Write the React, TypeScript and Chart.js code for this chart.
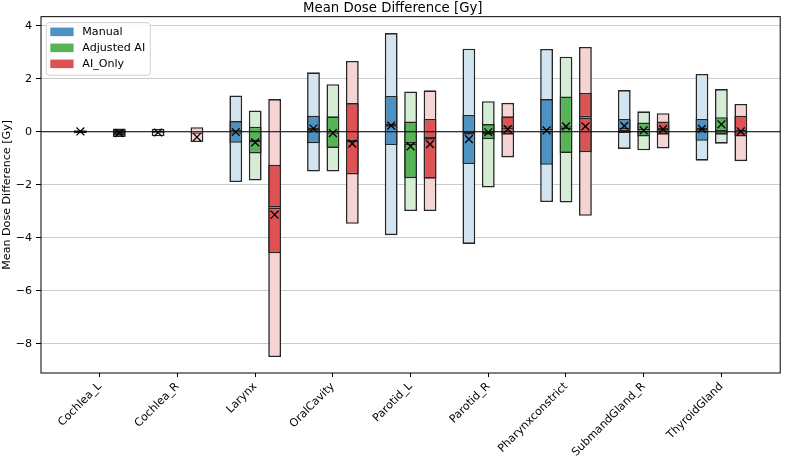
import React, { useEffect, useRef } from 'react';
import { Chart, registerables } from 'chart.js';

Chart.register(...registerables);

// ---------------- data ----------------
const categories = [
  'Cochlea_L', 'Cochlea_R', 'Larynx', 'OralCavity', 'Parotid_L',
  'Parotid_R', 'Pharynxconstrict', 'SubmandGland_R', 'ThyroidGland',
];
const seriesNames = ['Manual', 'Adjusted AI', 'AI_Only'];
const yTickValues = [-8, -6, -4, -2, 0, 2, 4];

// Manual
const manualMin = [-0.06, -0.17, -1.90, -1.50, -3.90, -4.23, -2.65, -0.65, -1.09];
const manualQ1 = [-0.02, -0.05, -0.42, -0.43, -0.50, -1.22, -1.25, -0.05, -0.34];
const manualMedian = [0.0, -0.02, 0.0, 0.10, 0.25, -0.05, 0.05, 0.08, 0.10];
const manualQ3 = [0.02, 0.03, 0.40, 0.60, 1.35, 0.63, 1.23, 0.48, 0.48];
const manualMax = [0.06, 0.11, 1.37, 2.24, 3.72, 3.13, 3.12, 1.57, 2.18];
const manualMean = [0.01, -0.03, -0.01, 0.12, 0.23, -0.28, 0.05, 0.22, 0.11];

// Adjusted AI
const adjustedMin = [null, null, -1.84, -1.50, -2.99, -2.10, -2.67, -0.70, -0.45];
const adjustedQ1 = [null, null, -0.82, -0.61, -1.75, -0.28, -0.80, -0.18, -0.11];
const adjustedMedian = [null, null, -0.35, -0.02, -0.45, -0.05, 0.15, 0.05, 0.0];
const adjustedQ3 = [null, null, 0.19, 0.58, 0.39, 0.29, 1.33, 0.35, 0.55];
const adjustedMax = [null, null, 0.80, 1.79, 1.52, 1.15, 2.83, 0.77, 1.61];
const adjustedMean = [null, null, -0.40, -0.05, -0.55, -0.02, 0.20, 0.05, 0.28];

// AI_Only
const aiOnlyMin = [-0.20, -0.39, -8.50, -3.47, -2.99, -0.97, -3.17, -0.63, -1.11];
const aiOnlyQ1 = [-0.15, -0.08, -4.58, -1.61, -1.77, -0.11, -0.77, -0.11, -0.18];
const aiOnlyMedian = [-0.05, -0.04, -2.86, -0.35, -0.24, 0.15, 0.54, 0.10, 0.0];
const aiOnlyQ3 = [0.08, 0.0, -1.25, 1.08, 0.48, 0.58, 1.46, 0.39, 0.60];
const aiOnlyMax = [0.12, 0.17, 1.23, 2.67, 1.56, 1.09, 3.20, 0.70, 1.05];
const aiOnlyMean = [-0.05, -0.20, -3.13, -0.45, -0.47, 0.10, 0.20, 0.10, 0.01];

const seriesMin = [manualMin, adjustedMin, aiOnlyMin];
const seriesQ1 = [manualQ1, adjustedQ1, aiOnlyQ1];
const seriesMedian = [manualMedian, adjustedMedian, aiOnlyMedian];
const seriesQ3 = [manualQ3, adjustedQ3, aiOnlyQ3];
const seriesMax = [manualMax, adjustedMax, aiOnlyMax];
const seriesMean = [manualMean, adjustedMean, aiOnlyMean];

// ---------------- styles ----------------
const darkColors = ['#4c92c3', '#56b356', '#de5253'];
const lightColors = ['#d2e4f0', '#d5ecd5', '#f7d4d4'];
const edgeColor = '#262626';
const FONT = "'DejaVu Sans', sans-serif";
const TICK_SIZE = 11.1;
const groupOffsets = [-0.25, 0, 0.25];

function floatData(lo: (number | null)[], hi: (number | null)[]) {
  const out: { x: number; y: [number, number] }[] = [];
  categories.forEach((_, i) => {
    const a = lo[i];
    const b = hi[i];
    if (a !== null && b !== null) out.push({ x: i, y: [a, b] });
  });
  return out;
}

const framePlugin = {
  id: 'frameAndZero',
  afterDatasetsDraw(chart: any) {
    const { ctx, chartArea: a, scales } = chart;
    const y0 = scales.y.getPixelForValue(0);
    ctx.save();
    ctx.strokeStyle = '#000';
    ctx.lineWidth = 1.2;
    ctx.beginPath();
    ctx.moveTo(a.left, y0);
    ctx.lineTo(a.right, y0);
    ctx.stroke();
    ctx.restore();
  },
  afterDraw(chart: any) {
    const { ctx, chartArea: a } = chart;
    ctx.save();
    ctx.strokeStyle = '#000';
    ctx.lineWidth = 1;
    ctx.strokeRect(a.left, a.top, a.right - a.left, a.bottom - a.top);

    // legend (upper left, inside axes)
    const lx = a.left + 5.3;
    const ly = a.top + 6;
    const lw = 104;
    const lh = 52.6;
    ctx.beginPath();
    ctx.roundRect(lx, ly, lw, lh, 3);
    ctx.fillStyle = 'rgba(255,255,255,0.85)';
    ctx.fill();
    ctx.strokeStyle = '#d0d0d0';
    ctx.lineWidth = 1;
    ctx.stroke();
    ctx.font = `${TICK_SIZE}px ${FONT}`;
    ctx.textBaseline = 'middle';
    ctx.textAlign = 'left';
    seriesNames.forEach((name, s) => {
      const cy = a.top + 15.2 + s * 16;
      ctx.fillStyle = darkColors[s];
      ctx.fillRect(a.left + 9.3, cy - 4.3, 23.3, 8.6);
      ctx.fillStyle = '#000';
      ctx.fillText(name, a.left + 41.3, cy);
    });
    ctx.restore();
  },
};

export default function App() {
  const canvasRef = useRef<HTMLCanvasElement | null>(null);

  useEffect(() => {
    document.body.style.margin = '0';
    const canvas = canvasRef.current;
    if (!canvas) return;

    const datasets: any[] = [];
    seriesNames.forEach((name, s) => {
      const common = {
        type: 'bar',
        borderColor: edgeColor,
        borderWidth: 1.6,
        borderSkipped: false,
        stack: name,
      };
      datasets.push({
        ...common,
        label: name + ' IQR upper',
        data: floatData(seriesMedian[s], seriesQ3[s]),
        backgroundColor: darkColors[s],
        order: 1,
      });
      datasets.push({
        ...common,
        label: name + ' IQR lower',
        data: floatData(seriesQ1[s], seriesMedian[s]),
        backgroundColor: darkColors[s],
        order: 1,
      });
      datasets.push({
        ...common,
        label: name + ' range',
        data: floatData(seriesMin[s], seriesMax[s]),
        backgroundColor: lightColors[s],
        order: 2,
      });
    });
    seriesNames.forEach((name, s) => {
      const pts: { x: number; y: number }[] = [];
      categories.forEach((_, i) => {
        const m = seriesMean[s][i];
        if (m !== null) pts.push({ x: i + groupOffsets[s], y: m });
      });
      datasets.push({
        type: 'scatter',
        label: name + ' mean',
        data: pts,
        pointStyle: 'crossRot',
        radius: 5.5,
        borderColor: '#000',
        borderWidth: 1.3,
        backgroundColor: 'rgba(0,0,0,0)',
        order: 0,
      });
    });

    const chart = new Chart(canvas, {
      type: 'bar',
      data: { datasets },
      plugins: [framePlugin],
      options: {
        responsive: false,
        animation: false,
        events: [],
        categoryPercentage: 0.75,
        barPercentage: 0.66,
        layout: { padding: { left: 0, right: 1.5, top: 0, bottom: 0 } },
        font: { family: FONT },
        color: '#000',
        plugins: {
          legend: { display: false },
          tooltip: { enabled: false },
          title: {
            display: true,
            text: 'Mean Dose Difference [Gy]',
            color: '#000',
            font: { family: FONT, size: 13.3, weight: 'normal' },
            padding: { top: 0.3, bottom: 0.4 },
          },
        },
        scales: {
          x: {
            type: 'linear',
            min: -0.757,
            max: 8.757,
            offset: false,
            grid: {
              offset: false,
              display: true,
              drawOnChartArea: false,
              drawTicks: true,
              tickLength: 4,
              tickColor: '#000',
              tickWidth: 1,
            },
            border: { display: false },
            afterBuildTicks: (scale: any) => {
              scale.ticks = categories.map((_, i) => ({ value: i }));
            },
            afterFit: (scale: any) => {
              scale.height = 85;
            },
            ticks: {
              autoSkip: false,
              maxRotation: 45,
              minRotation: 45,
              padding: 3,
              color: '#000',
              font: { family: FONT, size: TICK_SIZE },
              callback: (v: any) => categories[Math.round(Number(v))] ?? '',
            },
          },
          y: {
            type: 'linear',
            stacked: false,
            min: -9.1,
            max: 4.34,
            grid: {
              color: '#cccccc',
              lineWidth: 1,
              drawTicks: true,
              tickLength: 5,
              tickColor: '#000',
              tickWidth: 1,
            },
            border: { display: false },
            afterBuildTicks: (scale: any) => {
              scale.ticks = yTickValues.map((v) => ({ value: v }));
            },
            afterFit: (scale: any) => {
              scale.width = 41;
            },
            ticks: {
              padding: 4,
              color: '#000',
              font: { family: FONT, size: TICK_SIZE },
              callback: (v: any) => (Number(v) < 0 ? '\u2212' + Math.abs(Number(v)) : String(v)),
            },
            title: {
              display: true,
              text: 'Mean Dose Difference [Gy]',
              color: '#000',
              font: { family: FONT, size: TICK_SIZE },
              padding: { top: 0, bottom: 0 },
            },
          },
        },
      } as any,
    });

    return () => chart.destroy();
  }, []);

  return (
    <div style={{ position: 'absolute', left: 0, top: 0, width: 787, height: 458 }}>
      <canvas ref={canvasRef} width={787} height={458} style={{ display: 'block' }} />
    </div>
  );
}
